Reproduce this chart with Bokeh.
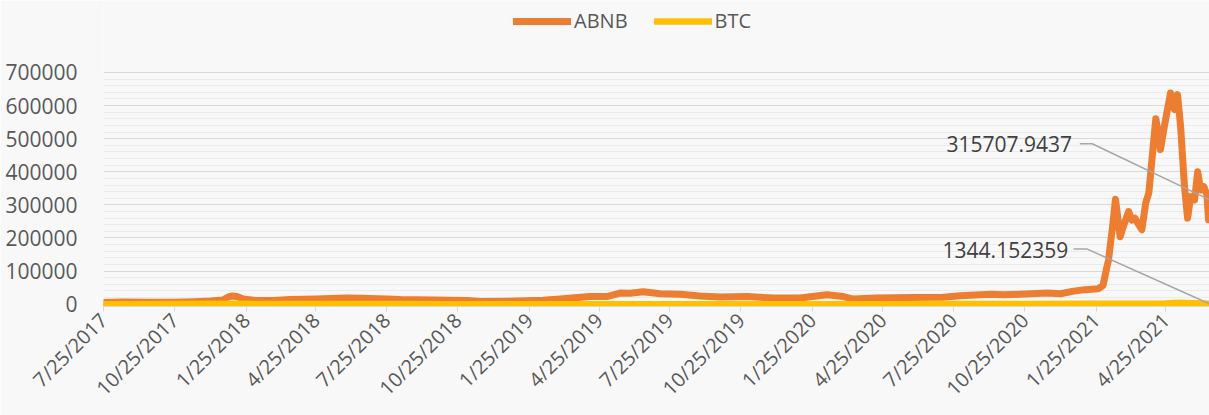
import math
import pandas as pd
from bokeh.plotting import figure
from bokeh.models import (Range1d, FixedTicker, NumeralTickFormatter,
                          CustomJSTickFormatter, Legend, LegendItem, Label, ColumnDataSource)
from bokeh.embed import file_html
from bokeh.resources import INLINE

# ---------------- data ----------------
abnb_dates = [
    "2017-07-25", "2017-08-19", "2017-09-20", "2017-10-23", "2017-11-20", "2017-12-10",
    "2017-12-26", "2018-01-02", "2018-01-07", "2018-01-13", "2018-01-21", "2018-02-08",
    "2018-03-01", "2018-03-23", "2018-04-26", "2018-05-15", "2018-06-04", "2018-06-21",
    "2018-07-25", "2018-08-12", "2018-09-23", "2018-11-06", "2018-11-23", "2019-01-09",
    "2019-02-12", "2019-03-06", "2019-04-13", "2019-05-05", "2019-05-22", "2019-06-04",
    "2019-06-21", "2019-07-13", "2019-08-08", "2019-09-02", "2019-09-28", "2019-11-02",
    "2019-12-06", "2020-01-09", "2020-02-13", "2020-03-05", "2020-03-18", "2020-04-17",
    "2020-05-30", "2020-07-12", "2020-08-03", "2020-09-11", "2020-09-27", "2020-10-19",
    "2020-11-23", "2020-12-10", "2020-12-27", "2021-01-11", "2021-01-28", "2021-02-03",
    "2021-02-08", "2021-02-10", "2021-02-15", "2021-02-19", "2021-02-21", "2021-02-25",
    "2021-03-01", "2021-03-08", "2021-03-12", "2021-03-16", "2021-03-21", "2021-03-25",
    "2021-03-30", "2021-04-03", "2021-04-07", "2021-04-12", "2021-04-16", "2021-04-18",
    "2021-04-23", "2021-04-27", "2021-05-01", "2021-05-06", "2021-05-10", "2021-05-14",
    "2021-05-19", "2021-05-23", "2021-05-27", "2021-06-01", "2021-06-05", "2021-06-09",
    "2021-06-13", "2021-06-17", "2021-06-19", "2021-06-20",
]
abnb_values = [
    5000, 7000, 6000, 6000, 7500, 9400,
    12400, 22000, 25000, 23000, 15500, 11000,
    11000, 14000, 16000, 17000, 19000, 18000,
    16000, 14000, 13000, 11000, 8000, 9500,
    12000, 15500, 23000, 23000, 33500, 33000,
    37500, 31500, 30000, 25000, 21500, 23000,
    18500, 19000, 28500, 23000, 15500, 18500,
    20000, 21000, 25500, 30000, 28500, 30000,
    33500, 31500, 39500, 44000, 47000, 57000,
    113000, 133000, 230000, 317000, 280000, 204000,
    234000, 280000, 254000, 260000, 240000, 225000,
    306000, 336000, 436000, 560000, 507000, 467000,
    537000, 588000, 638000, 588000, 633000, 537000,
    355000, 260000, 325000, 315000, 400000, 345000,
    355000, 330000, 255000, 315707.9437,
]
btc_dates = [
    "2017-07-25", "2017-10-25", "2018-01-13", "2018-02-06", "2018-04-25", "2018-07-25",
    "2018-10-25", "2019-01-25", "2019-04-25", "2019-07-25", "2019-10-25", "2020-01-25",
    "2020-03-16", "2020-04-25", "2020-07-25", "2020-10-25", "2021-01-25", "2021-04-25",
    "2021-05-12", "2021-06-20",
]
btc_values = [
    220, 300, 1400, 700, 650, 470,
    200, 115, 160, 215, 180, 160,
    110, 195, 300, 410, 1300, 2300,
    4170, 1344.152359,
]
tick_labels = [
    "7/25/2017", "10/25/2017", "1/25/2018", "4/25/2018", "7/25/2018", "10/25/2018",
    "1/25/2019", "4/25/2019", "7/25/2019", "10/25/2019", "1/25/2020", "4/25/2020",
    "7/25/2020", "10/25/2020", "1/25/2021", "4/25/2021",
]
y_ticks = [0, 100000, 200000, 300000, 400000, 500000, 600000, 700000]
series_names = ["ABNB", "BTC"]
colors = ["#ED7D31", "#FFC000"]

# ---------------- helpers ----------------
def ms(s):
    return int(pd.Timestamp(s).value // 10**6)

FONT = "Open Sans"
TXT = "#595959"

x_start = pd.Timestamp("2017-07-25")
x_end = pd.Timestamp("2021-06-20 06:00")

p = figure(width=1209, height=415, x_axis_type="datetime",
           output_backend="svg", toolbar_location=None,
           x_range=Range1d(x_start, x_end), y_range=Range1d(-6950, 917500),
           min_border_left=103, min_border_right=0, min_border_top=0, min_border_bottom=109,
           background_fill_color="#F8F8F8", border_fill_color="#F8F8F8",
           outline_line_color=None)

src_a = ColumnDataSource(dict(x=pd.to_datetime(abnb_dates), y=abnb_values))
src_b = ColumnDataSource(dict(x=pd.to_datetime(btc_dates), y=btc_values))

r_a = p.line("x", "y", source=src_a, line_color=colors[0], line_width=7,
             line_join="round", line_cap="round")
r_b = p.line("x", "y", source=src_b, line_color=colors[1], line_width=6.5,
             line_join="round", line_cap="round")

# axes
tick_ms = [ms(pd.to_datetime(t, format="%m/%d/%Y")) for t in tick_labels]
p.xaxis.ticker = FixedTicker(ticks=tick_ms)
p.xaxis.formatter = CustomJSTickFormatter(
    args=dict(labels={str(t): l for t, l in zip(tick_ms, tick_labels)}),
    code="return labels[String(tick)] || '';")
p.xaxis.major_label_orientation = math.pi / 4
p.xaxis.axis_line_color = "#D9D9D9"
p.xaxis.major_tick_line_color = "#D9D9D9"
p.xaxis.major_tick_out = 5
p.xaxis.major_tick_in = 0
p.xaxis.minor_tick_line_color = None
p.xaxis.major_label_standoff = 5
p.xaxis.major_label_text_font_size = "20px"

minor = [v + k * 20000 for v in y_ticks[:-1] for k in range(1, 5)]
p.yaxis.ticker = FixedTicker(ticks=y_ticks, minor_ticks=minor)
p.yaxis.formatter = NumeralTickFormatter(format="0")
p.yaxis.axis_line_color = None
p.yaxis.major_tick_line_color = None
p.yaxis.minor_tick_line_color = None
p.yaxis.major_label_standoff = 20
p.yaxis.major_label_text_font_size = "21px"

for ax in (p.xaxis[0], p.yaxis[0]):
    ax.major_label_text_font = FONT
    ax.major_label_text_color = TXT

p.xgrid.grid_line_color = None
p.ygrid.grid_line_color = "#D9D9D9"
p.ygrid.grid_line_width = 1
p.ygrid.minor_grid_line_color = "#EBEBEB"
p.ygrid.minor_grid_line_width = 1

# data labels with leader lines
last_a = (abnb_dates[-1], abnb_values[-1])
last_b = (btc_dates[-1], btc_values[-1])
lab_a = dict(tx="2020-12-25", ty=482600, lx=["2021-01-04", "2021-01-20"], ly=484700)
lab_b = dict(tx="2020-12-20", ty=164000, lx=["2020-12-27", "2021-01-13"], ly=167000)
for last, lab in ((last_a, lab_a), (last_b, lab_b)):
    p.line(pd.to_datetime(lab["lx"] + [last[0]]), [lab["ly"], lab["ly"], last[1]],
           line_color="#A6A6A6", line_width=1.5)
    p.add_layout(Label(x=ms(lab["tx"]), y=lab["ty"], text=f"{last[1]}",
                       text_align="right", text_baseline="middle",
                       text_font=FONT, text_font_size="21px", text_color="#404040"))

legend = Legend(items=[LegendItem(label=series_names[0], renderers=[r_a]),
                       LegendItem(label=series_names[1], renderers=[r_b])],
                location=(410, 272), orientation="horizontal",
                background_fill_alpha=0, border_line_color=None,
                padding=0, margin=0, spacing=26, glyph_width=58, glyph_height=20,
                label_height=20, label_standoff=3,
                label_text_font=FONT, label_text_font_size="20px", label_text_color=TXT)
p.add_layout(legend)

open("out.html", "w").write(file_html(p, INLINE))
